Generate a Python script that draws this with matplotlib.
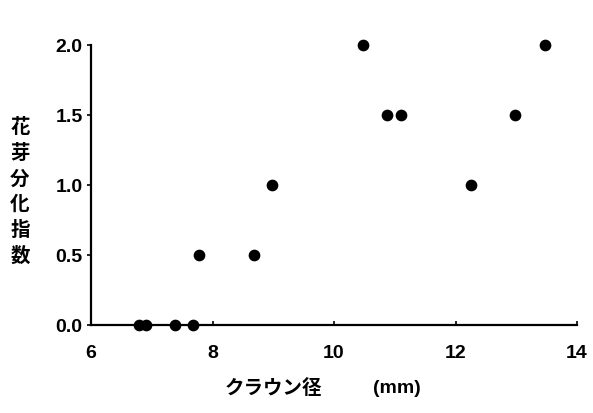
import matplotlib.pyplot as plt

# crown diameter (mm) vs flower bud differentiation index
crown_mm = [6.79, 6.90, 7.38, 7.68, 7.78, 8.68, 8.98, 10.48, 10.87, 11.10, 12.25, 12.98, 13.47]
bud_index = [0.0, 0.0, 0.0, 0.0, 0.5, 0.5, 1.0, 2.0, 1.5, 1.5, 1.0, 1.5, 2.0]

x_ticks = [6, 8, 10, 12, 14]
y_ticks = [0.0, 0.5, 1.0, 1.5, 2.0]
y_tick_labels = ["0.0", "0.5", "1.0", "1.5", "2.0"]

W, H = 593, 414


def main():
    """main function"""
    fig = plt.figure(figsize=(W / 100, H / 100), dpi=100)
    ax = fig.add_axes([91 / W, 1 - 326 / H, (577 - 91) / W, (326 - 46) / H])

    ax.scatter(crown_mm, bud_index, s=55, color="black", zorder=3, clip_on=False)

    ax.set_xlim(6, 14)
    ax.set_ylim(0, 2)
    for side in ("top", "right"):
        ax.spines[side].set_visible(False)
    for side in ("left", "bottom"):
        ax.spines[side].set_linewidth(1.6)

    num_font = {"family": "Liberation Sans", "weight": "bold", "size": 14}
    ax.set_xticks(x_ticks)
    ax.set_xticklabels([str(t) for t in x_ticks], fontdict=num_font)
    ax.set_yticks(y_ticks)
    ax.set_yticklabels(y_tick_labels, fontdict=num_font)
    ax.tick_params(axis="x", direction="in", length=3, width=1.2, pad=14)
    ax.tick_params(axis="y", direction="out", length=3, width=1.2, pad=3)

    cjk = ["Noto Sans CJK JP", "DejaVu Sans"]
    fig.text(20 / W, 1 - 192 / H, "\n".join("花芽分化指数"), family=cjk,
             weight="bold", fontsize=14, ha="center", va="center",
             linespacing=1.45)
    fig.text(273 / W, 1 - 389 / H, "クラウン径", family=cjk, weight="bold",
             fontsize=14, ha="center", va="center")
    fig.text(397 / W, 1 - 389 / H, "(mm)", family="Liberation Sans",
             weight="bold", fontsize=14, ha="center", va="center")

    fig.savefig("out.png", dpi=100)


if __name__ == "__main__":
    main()
